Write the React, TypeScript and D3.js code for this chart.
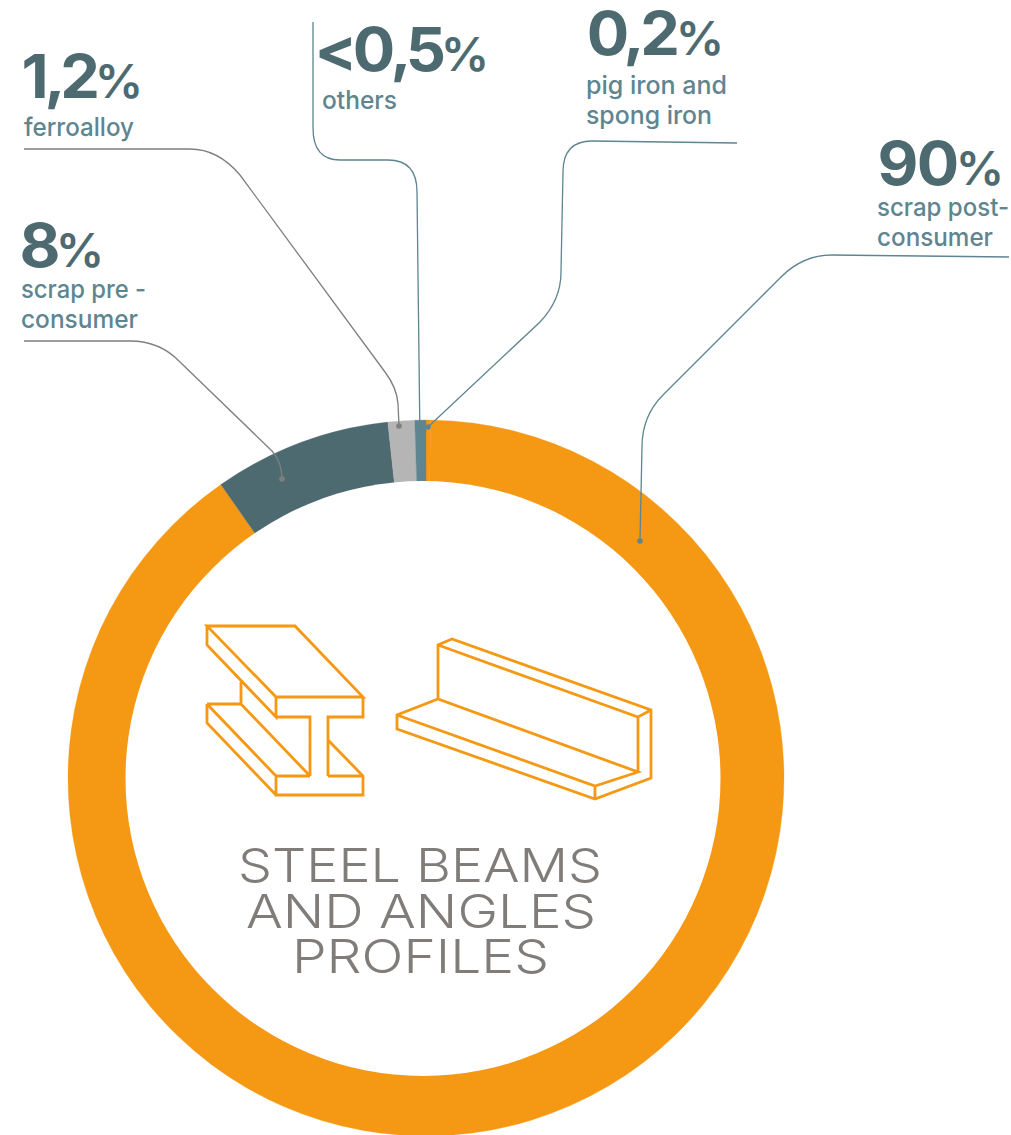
import React from "react";
import * as d3 from "d3";

// ---- data ----
const categories = ["pig iron and spong iron", "scrap post-consumer", "scrap pre - consumer", "ferroalloy", "others"];
const shares = [0.2, 90, 8, 1.2, 0.5];
const titleLines = ["STEEL BEAMS", "AND ANGLES", "PROFILES"];
const percentLabels = ["0,2", "90", "8", "1,2", "<0,5"];
const subLabels = [["pig iron and", "spong iron"], ["scrap post-", "consumer"], ["scrap pre -", "consumer"], ["ferroalloy"], ["others"]];

// ---- styling / layout ----
const W = 1011, H = 1135;
const CX = 426, CY = 778, R_OUT = 358;
const HOLE_X = 423, HOLE_Y = 778.5, HOLE_R = 297.5;
const ORANGE = "#f59813", DARK = "#4e6a71", TEAL = "#5e8590", GREY = "#b5b5b5", LINE_GREY = "#7f7f7f", TITLE = "#7f7c7a";
const sliceColors = [ORANGE, ORANGE, DARK, GREY, TEAL];
const FONT = "Inter, 'Open Sans', sans-serif";
const NUM_SCALE = 1.05;

// centre of every glyph of the big numbers, the last one being the % sign
const pctLayout = [
  { y: 55, xs: [608, 634, 660], pct: 700 },
  { y: 185, xs: [898, 938], pct: 980 },
  { y: 267, xs: [40], pct: 80 },
  { y: 98, xs: [35, 55, 80], pct: 119 },
  { y: 71, xs: [336, 374, 401, 426], pct: 465 },
];
const subLayout = [
  [{ x: 586, y: 94, w: 141 }, { x: 586, y: 124, w: 126 }],
  [{ x: 877, y: 216, w: 132 }, { x: 877, y: 246, w: 116 }],
  [{ x: 21, y: 298, w: 125 }, { x: 21, y: 328, w: 117 }],
  [{ x: 24, y: 136, w: 110 }],
  [{ x: 322, y: 109, w: 75 }],
];
const titleLayout = [
  { x: 238, y: 882, w: 364 },
  { x: 246, y: 928, w: 350 },
  { x: 292, y: 973, w: 257 },
];

type Seg = number[];
const leaders: { color: string; start: [number, number]; segs: Seg[] }[] = [
  { color: TEAL, start: [737, 143], segs: [[592, 141], [563, 141, 563, 172], [561, 272], [561, 300, 540, 322], [428, 427]] },
  { color: TEAL, start: [1009, 257], segs: [[832, 255], [803, 255, 781, 277], [663, 395], [642, 416, 642, 447], [640, 541]] },
  { color: LINE_GREY, start: [24, 341], segs: [[130, 341], [160, 341, 180, 362], [272, 451], [282, 462, 282, 479]] },
  { color: LINE_GREY, start: [24, 149], segs: [[190, 149], [218, 149, 240, 175], [385, 372], [397, 388, 398, 404], [399, 426]] },
  { color: TEAL, start: [313, 22], segs: [[313, 128], [313, 160, 340, 160], [388, 160], [417, 160, 417, 192], [420, 441]] },
];

const iconPaths = [
  "M207,626H295L363,697H276Z M207,626V645L276,717V697 M276,717H310V776 M363,697V717H328V776 M328,740L363,776V795H276V776 M328,776H363 M276,776H310 M207,704V723L276,795 M207,704L276,776 M207,704H241V682 M241,704L310,776",
  "M438,699V645L452,639L651,710V778L595,799L397,729V715L438,699L638,772L595,786L397,715 M438,645L638,717L651,710 M638,717V772 M595,786V799",
];

function leaderPath(l: (typeof leaders)[number]) {
  const p = d3.path();
  p.moveTo(l.start[0], l.start[1]);
  l.segs.forEach((s) => {
    if (s.length === 2) p.lineTo(s[0], s[1]);
    else p.quadraticCurveTo(s[0], s[1], s[2], s[3]);
  });
  return p.toString();
}

export default function App() {
  const pie = d3.pie<number>().sort(null).startAngle(0).endAngle(2 * Math.PI);
  const arcs = pie(shares);
  const arc = d3.arc<d3.PieArcDatum<number>>().innerRadius(280).outerRadius(R_OUT);

  return (
    <svg width={W} height={H} viewBox={`0 0 ${W} ${H}`} style={{ position: "absolute", left: 0, top: 0, background: "#fff" }}>
      <g transform={`translate(${CX},${CY})`}>
        {arcs.map((a, i) => (
          <path key={categories[i]} d={arc(a) || ""} fill={sliceColors[i]} stroke={sliceColors[i]} strokeWidth={0.3} />
        ))}
      </g>
      <circle cx={HOLE_X} cy={HOLE_Y} r={HOLE_R} fill="#fff" />

      {leaders.map((l, i) => {
        const last = l.segs[l.segs.length - 1];
        const ex = last[last.length - 2], ey = last[last.length - 1];
        return (
          <g key={i}>
            <path d={leaderPath(l)} fill="none" stroke={l.color} strokeWidth={1.3} />
            <circle cx={ex} cy={ey} r={2.8} fill={l.color} />
          </g>
        );
      })}

      {iconPaths.map((d, i) => (
        <path key={i} d={d} fill="none" stroke={ORANGE} strokeWidth={2.8} strokeLinejoin="miter" />
      ))}

      {titleLines.map((t, i) => (
        <text key={t} x={titleLayout[i].x} y={titleLayout[i].y} fontFamily={FONT} fontWeight={350} fontSize={47} fill={TITLE}
          textLength={titleLayout[i].w} lengthAdjust="spacingAndGlyphs">{t}</text>
      ))}

      {percentLabels.map((t, i) => {
        const p = pctLayout[i];
        return (
          <text key={t} transform={`translate(0,${p.y}) scale(${NUM_SCALE},1)`} textAnchor="middle" fontFamily={FONT} fill={DARK}>
            <tspan x={p.xs.map((x) => x / NUM_SCALE).join(" ")} fontWeight={700} fontSize={60}>{t}</tspan>
            <tspan x={p.pct / NUM_SCALE} fontWeight={600} fontSize={46}>%</tspan>
          </text>
        );
      })}

      {subLabels.map((lines, i) =>
        lines.map((t, j) => (
          <text key={`${i}-${j}`} x={subLayout[i][j].x} y={subLayout[i][j].y} fontFamily={FONT} fontWeight={500} fontSize={25.5} fill={TEAL}
            textLength={subLayout[i][j].w} lengthAdjust="spacingAndGlyphs">{t}</text>
        ))
      )}
    </svg>
  );
}
